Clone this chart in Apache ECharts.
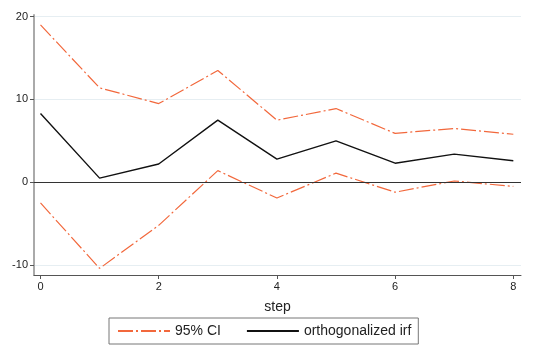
<!DOCTYPE html>
<html>
<head>
<meta charset="utf-8">
<script src="https://cdn.jsdelivr.net/npm/echarts@6/dist/echarts.min.js"></script>
<style>html,body{margin:0;padding:0;background:#fff}#c{width:548px;height:359px}</style>
</head>
<body>
<div id="c"></div>
<script>
const steps = [0, 1, 2, 3, 4, 5, 6, 7, 8];
const ciUpper = [19.0, 11.4, 9.5, 13.5, 7.5, 8.9, 5.9, 6.5, 5.8];
const ciLower = [-2.5, -10.4, -5.2, 1.4, -1.9, 1.1, -1.2, 0.15, -0.5];
const irf = [8.3, 0.5, 2.2, 7.5, 2.8, 5.0, 2.3, 3.4, 2.6];
const xTicks = [0, 2, 4, 6, 8];
const yTicks = [-10, 0, 10, 20];

const orange = '#f2683c';
const font = 'Liberation Sans, Arial, sans-serif';
const pair = (xs, ys) => xs.map((x, i) => [x, ys[i]]);
const dashDot = [15, 3, 2, 3];

const chart = echarts.init(document.getElementById('c'));
chart.setOption({
  animation: false,
  backgroundColor: '#fff',
  grid: { left: 34, right: 27, top: 15, bottom: 84, containLabel: false },
  xAxis: {
    type: 'value', min: -0.11, max: 8.13,
    name: 'step', nameLocation: 'middle', nameGap: 25,
    nameTextStyle: { fontFamily: font, fontSize: 14, color: '#222' },
    axisLine: { show: true, onZero: false, lineStyle: { color: '#555', width: 1 } },
    axisTick: { show: true, customValues: xTicks, length: 4, lineStyle: { color: '#555' } },
    axisLabel: { customValues: xTicks, fontFamily: font, fontSize: 11, color: '#222', margin: 6 },
    splitLine: { show: false }
  },
  yAxis: {
    type: 'value', min: -11.2, max: 20.2,
    axisLine: { show: true, onZero: false, lineStyle: { color: '#aaa', width: 2 } },
    axisTick: { show: true, customValues: yTicks, length: 4, lineStyle: { color: '#555' } },
    axisLabel: { customValues: yTicks, fontFamily: font, fontSize: 11, color: '#222', margin: 6 },
    splitLine: { show: true, lineStyle: { color: '#e6eef2', width: 1 } }
  },
  legend: {
    left: 109, top: 318,
    padding: [6, 7, 6, 8],
    borderColor: '#777', borderWidth: 1,
    itemStyle: { opacity: 0 },
    itemWidth: 52, itemHeight: 12, itemGap: 25,
    textStyle: { fontFamily: font, fontSize: 14, color: '#222' },
    data: ['95% CI', 'orthogonalized irf']
  },
  series: [
    {
      name: '95% CI', type: 'line', data: pair(steps, ciUpper), symbol: 'none',
      lineStyle: { color: orange, width: 1.2, type: dashDot }, itemStyle: { color: orange },
      z: 3
    },
    {
      name: '95% CI', type: 'line', data: pair(steps, ciLower), symbol: 'none',
      lineStyle: { color: orange, width: 1.2, type: dashDot }, itemStyle: { color: orange },
      z: 3
    },
    {
      name: 'orthogonalized irf', type: 'line', data: pair(steps, irf), symbol: 'none',
      lineStyle: { color: '#111', width: 1.4 }, itemStyle: { color: '#111' },
      z: 4,
      markLine: {
        silent: true, symbol: 'none', label: { show: false },
        lineStyle: { color: '#333', width: 1, type: 'solid' },
        data: [{ yAxis: 0 }]
      }
    }
  ]
});
</script>
</body>
</html>
